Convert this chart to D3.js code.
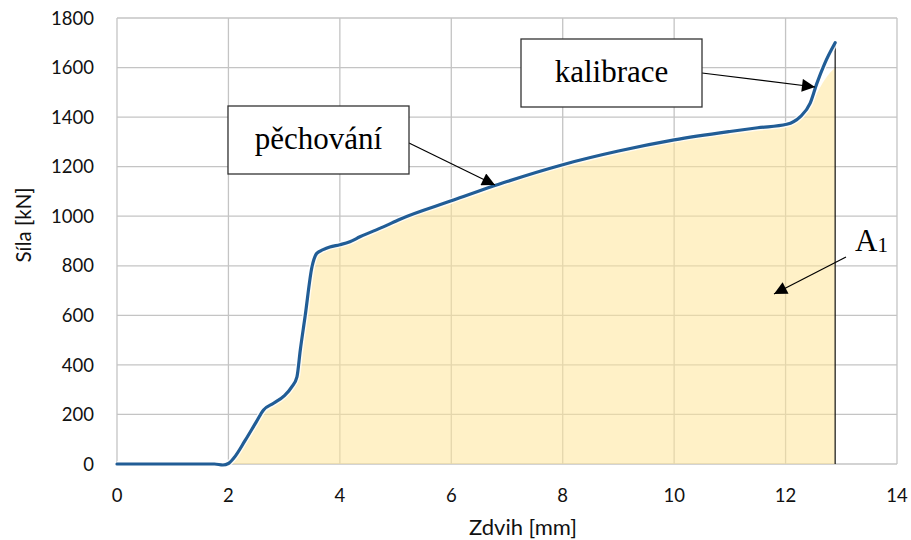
<!DOCTYPE html>
<html>
<head>
<meta charset="utf-8">
<script src="https://cdn.jsdelivr.net/npm/d3@7"></script>
<style>
  html, body { margin: 0; padding: 0; background: #fff; }
  svg { display: block; }
</style>
</head>
<body>
<svg id="chart" width="911" height="540"></svg>
<script>
// Press stroke [mm] vs. force [kN]
const strokeMm = [0, 0.5, 1.0, 1.5, 1.75, 1.9, 2.0, 2.1, 2.3, 2.5, 2.63, 2.81, 3.0, 3.14, 3.23, 3.29, 3.375, 3.5, 3.585, 3.7, 3.82, 4.0, 4.18, 4.36, 4.78, 5.08, 6.0, 7.0, 8.0, 9.0, 10.0, 11.0, 11.5, 12.02, 12.26, 12.44, 12.56, 12.7, 12.89];
const forceKn  = [0, 0, 0, 0, 0, -4, 2, 25, 95, 170, 218, 245, 275, 312, 352, 460, 594, 796, 850, 865, 876, 885, 897, 917, 957, 988, 1062, 1140, 1208, 1263, 1308, 1342, 1357, 1371, 1401, 1455, 1535, 1615, 1700];
// Shaded work area A1 (its top edge lags the curve in the calibration part)
const areaKn   = [0, 0, 0, 0, 0, 0, 0, 25, 95, 170, 218, 245, 275, 312, 352, 460, 594, 796, 850, 865, 876, 885, 897, 917, 957, 988, 1062, 1140, 1208, 1263, 1308, 1342, 1357, 1368, 1390, 1440, 1495, 1550, 1600];

const xTicks = [0, 2, 4, 6, 8, 10, 12, 14];
const yTicks = [0, 200, 400, 600, 800, 1000, 1200, 1400, 1600, 1800];

const svg = d3.select("#chart");
const plot = { left: 117, right: 897, top: 18, bottom: 464 };

const x = d3.scaleLinear().domain([0, 14]).range([plot.left, plot.right]);
const y = d3.scaleLinear().domain([0, 1800]).range([plot.bottom, plot.top]);

const labelFont = "Lato, 'Open Sans', sans-serif";
const serif = "'Liberation Serif', 'DejaVu Serif', serif";

// grid
const grid = svg.append("g").attr("stroke", "#c4c4c4").attr("stroke-width", 1.3);
xTicks.forEach(t => grid.append("line")
  .attr("x1", x(t)).attr("x2", x(t)).attr("y1", plot.top).attr("y2", plot.bottom));
yTicks.forEach(t => grid.append("line")
  .attr("x1", plot.left).attr("x2", plot.right).attr("y1", y(t)).attr("y2", y(t)));

// area A1
const pts = strokeMm.map((s, i) => ({ s, f: forceKn[i], a: areaKn[i] }));
const startIdx = strokeMm.indexOf(2.0);
const areaGen = d3.area()
  .x(d => x(d.s)).y0(y(0)).y1(d => y(Math.max(0, d.a)))
  .curve(d3.curveMonotoneX);
svg.append("path")
  .datum(pts.slice(startIdx))
  .attr("d", areaGen)
  .attr("fill", "#ffe699")
  .attr("fill-opacity", 0.55);

// end of stroke marker
const last = pts[pts.length - 1];
svg.append("line")
  .attr("x1", x(last.s)).attr("x2", x(last.s))
  .attr("y1", y(last.f)).attr("y2", y(0))
  .attr("stroke", "#111").attr("stroke-width", 1.2);

// force curve
const lineGen = d3.line().x(d => x(d.s)).y(d => y(d.f)).curve(d3.curveMonotoneX);
svg.append("path").datum(pts).attr("d", lineGen)
  .attr("fill", "none").attr("stroke", "#fff").attr("stroke-width", 6).attr("stroke-opacity", 0.8);
svg.append("path").datum(pts).attr("d", lineGen)
  .attr("fill", "none").attr("stroke", "#215d96").attr("stroke-width", 3.2)
  .attr("stroke-linejoin", "round").attr("stroke-linecap", "round");

// tick labels
svg.append("g").selectAll("text").data(yTicks).join("text")
  .attr("x", 94).attr("y", d => y(d)).attr("dy", "0.36em")
  .attr("text-anchor", "end")
  .attr("font-family", labelFont).attr("font-size", 18.5).attr("fill", "#111")
  .text(d => d);
svg.append("g").selectAll("text").data(xTicks).join("text")
  .attr("x", d => x(d)).attr("y", 502)
  .attr("text-anchor", "middle")
  .attr("font-family", labelFont).attr("font-size", 18.5).attr("fill", "#111")
  .text(d => d);

// axis titles
svg.append("text")
  .attr("transform", "translate(31,225) rotate(-90)")
  .attr("text-anchor", "middle")
  .attr("font-family", labelFont).attr("font-size", 20.5).attr("fill", "#111")
  .text("Síla [kN]");
svg.append("text")
  .attr("x", 523).attr("y", 535)
  .attr("text-anchor", "middle")
  .attr("font-family", labelFont).attr("font-size", 22).attr("fill", "#111")
  .text("Zdvih [mm]");

// arrow head
svg.append("defs").append("marker")
  .attr("id", "arrow")
  .attr("viewBox", "0 0 10 10")
  .attr("refX", 10).attr("refY", 5)
  .attr("markerWidth", 15).attr("markerHeight", 13)
  .attr("markerUnits", "userSpaceOnUse")
  .attr("orient", "auto")
  .append("path").attr("d", "M0,0 L10,5 L0,10 Z").attr("fill", "#000");

// callouts
function callout(bx, by, bw, bh, label, from, to) {
  svg.append("line")
    .attr("x1", from[0]).attr("y1", from[1]).attr("x2", to[0]).attr("y2", to[1])
    .attr("stroke", "#000").attr("stroke-width", 1.2)
    .attr("marker-end", "url(#arrow)");
  svg.append("rect")
    .attr("x", bx).attr("y", by).attr("width", bw).attr("height", bh)
    .attr("fill", "#fff").attr("stroke", "#333").attr("stroke-width", 1.3);
  svg.append("text")
    .attr("x", bx + bw / 2).attr("y", by + bh / 2).attr("dy", "0.3em")
    .attr("text-anchor", "middle")
    .attr("font-family", serif).attr("font-size", 31).attr("fill", "#000")
    .text(label);
}
callout(228, 106, 181, 68, "pěchování", [409, 143], [495, 185]);
callout(521, 39, 181, 68, "kalibrace", [702, 73], [815, 87]);

// A1 label
svg.append("line")
  .attr("x1", 846).attr("y1", 257).attr("x2", 774).attr("y2", 294)
  .attr("stroke", "#000").attr("stroke-width", 1.2)
  .attr("marker-end", "url(#arrow)");
const a1 = svg.append("text")
  .attr("x", 855).attr("y", 251)
  .attr("font-family", serif).attr("font-size", 31).attr("fill", "#000");
a1.append("tspan").text("A");
a1.append("tspan").attr("font-size", 21).attr("dy", 1).text("1");
</script>
</body>
</html>
